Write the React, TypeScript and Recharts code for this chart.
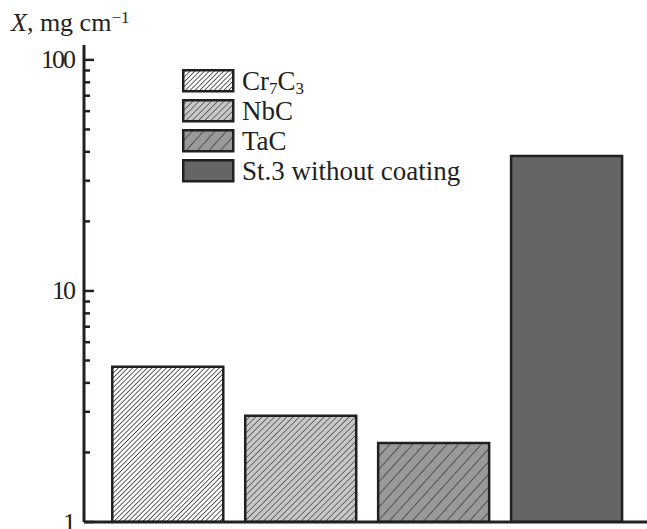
import React from 'react';
import { BarChart, Bar, XAxis, YAxis, Cell, Legend } from 'recharts';

const categories = ['Cr7C3', 'NbC', 'TaC', 'St.3 without coating'];
const values = [4.7, 2.88, 2.2, 38.4];
const positions = [1, 2, 3, 4];
const yTicks = [1, 2, 3, 4, 5, 6, 7, 8, 9, 10, 20, 30, 40, 50, 60, 70, 80, 90, 100];
const yLabels = [1, 10, 100];
const xTicks = [2.5];
const fills = ['url(#hatch1)', 'url(#hatch2)', 'url(#hatch3)', '#656565'];

const data = categories.map((name, i) => ({ name, pos: positions[i], value: values[i] }));

const FONT = '"Liberation Serif", "Times New Roman", serif';
const INK = '#231f20';

const renderChem = (s: string) => {
  const parts = s.split(/(?<=[A-Za-z])(\d)/);
  return parts.map((p, i) =>
    /^\d$/.test(p) && i % 2 === 1 ? (
      <sub key={i} style={{ fontSize: 17, verticalAlign: -4, lineHeight: 0 }}>{p}</sub>
    ) : (
      <span key={i}>{p}</span>
    )
  );
};

const YTick = (props: any) => {
  const { x, y, payload } = props;
  const v = payload.value;
  const major = yLabels.includes(v);
  const ax = x + 10;
  return (
    <g>
      <line x1={ax} x2={ax + (major ? 10 : 6)} y1={y} y2={y} stroke={INK} strokeWidth={2.5} />
      {major && (
        <text
          x={x}
          y={y}
          textAnchor="end"
          dominantBaseline="central"
          fontFamily={FONT}
          fontSize={26}
          letterSpacing={-2}
          fill={INK}
        >
          {v}
        </text>
      )}
    </g>
  );
};

const LegendContent = () => (
  <div style={{ fontFamily: FONT, fontSize: 27, color: INK }}>
    {categories.map((c, i) => (
      <div key={c} style={{ display: 'flex', alignItems: 'center', height: 30, lineHeight: '26px' }}>
        <svg width={53} height={24} style={{ display: 'block', marginRight: 7, flex: 'none' }}>
          <rect x={1.25} y={1.25} width={50} height={21} fill={fills[i]} stroke={INK} strokeWidth={2.5} />
        </svg>
        <span style={{ whiteSpace: 'nowrap' }}>{renderChem(c)}</span>
      </div>
    ))}
  </div>
);

export default function App() {
  return (
    <div style={{ position: 'absolute', left: 0, top: 0, width: 647, height: 529 }}>
      <div
        style={{
          position: 'absolute',
          left: 11,
          top: 10,
          fontFamily: FONT,
          fontSize: 26,
          color: INK,
          whiteSpace: 'nowrap',
          lineHeight: '26px',
        }}
      >
        <i>X</i>, mg cm<sup style={{ fontSize: 17, verticalAlign: 8, lineHeight: 0 }}>−1</sup>
      </div>
      <BarChart width={647} height={529} data={data} margin={{ top: 45, right: 0, left: 0, bottom: 0 }}>
        <defs>
          <pattern id="hatch1" patternUnits="userSpaceOnUse" width={3.4} height={3.4} patternTransform="rotate(45)">
            <rect width={3.4} height={3.4} fill="#ffffff" />
            <line x1={0} y1={0} x2={0} y2={3.4} stroke="#1a1a1a" strokeWidth={1.4} />
          </pattern>
          <pattern id="hatch2" patternUnits="userSpaceOnUse" width={4.4} height={4.4} patternTransform="rotate(45)">
            <rect width={4.4} height={4.4} fill="#c8c8c8" />
            <line x1={0} y1={0} x2={0} y2={4.4} stroke="#1a1a1a" strokeWidth={1.1} />
          </pattern>
          <pattern id="hatch3" patternUnits="userSpaceOnUse" width={8.5} height={8.5} patternTransform="rotate(42)">
            <rect width={8.5} height={8.5} fill="#999999" />
            <line x1={0} y1={0} x2={0} y2={8.5} stroke="#1a1a1a" strokeWidth={1.1} />
          </pattern>
        </defs>
        <XAxis
          type="number"
          dataKey="pos"
          domain={[0.37, 4.605]}
          allowDataOverflow
          ticks={xTicks}
          tick={false}
          tickSize={7}
          height={7}
          axisLine={{ stroke: INK, strokeWidth: 3 }}
          tickLine={{ stroke: INK, strokeWidth: 2.5 }}
        />
        <YAxis
          type="number"
          scale="log"
          domain={[1, 116]}
          allowDataOverflow
          ticks={yTicks}
          interval={0}
          width={84}
          tickSize={0}
          tickMargin={10}
          tickLine={false}
          tick={<YTick />}
          axisLine={{ stroke: INK, strokeWidth: 3 }}
        />
        <Legend
          layout="vertical"
          align="center"
          verticalAlign="middle"
          content={<LegendContent />}
          wrapperStyle={{ left: 182, top: 66, width: 320 }}
        />
        <Bar dataKey="value" barSize={111} stroke={INK} strokeWidth={2.5} isAnimationActive={false}>
          {data.map((d, i) => (
            <Cell key={d.name} fill={fills[i]} />
          ))}
        </Bar>
      </BarChart>
    </div>
  );
}
